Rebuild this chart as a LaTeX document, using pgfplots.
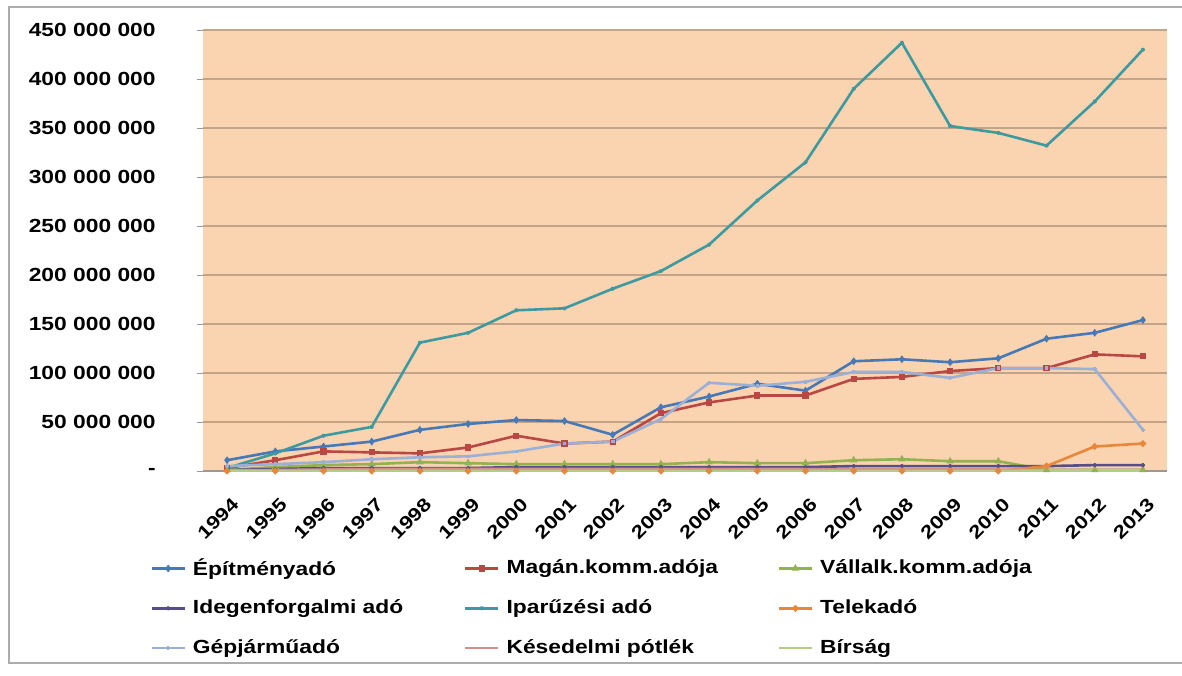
\documentclass[border=0pt]{standalone}
\usepackage{fontspec}
\setmainfont{Liberation Sans}[FakeStretch=1.2]
\usepackage{pgfplots}
\pgfplotsset{compat=1.18}
\usepackage{pgfplotstable}

\definecolor{bgpeach}{HTML}{FAD3B0}
\definecolor{gridc}{HTML}{C2A488}
\definecolor{cEpit}{HTML}{4679B6}
\definecolor{cMagan}{HTML}{B94744}
\definecolor{cVall}{HTML}{93B250}
\definecolor{cIdeg}{HTML}{574E88}
\definecolor{cIpar}{HTML}{3C9AA0}
\definecolor{cTelek}{HTML}{E8873A}
\definecolor{cGep}{HTML}{9AB0D6}
\definecolor{cKes}{HTML}{D48E8B}
\definecolor{cBirs}{HTML}{B5CB88}

% 1994..2013 -> x = 0..19
\pgfplotstableread{
x E M V I P T G K B
0  11000000  3000000  1000000 1000000   3000000  0        5000000  500000  0
1  20000000  11000000 4000000 2000000   18000000 0        7000000  1000000 0
2  25000000  20000000 6000000 3000000   36000000 0        9000000  1500000 0
3  30000000  19000000 7000000 3000000   45000000 0        12000000 2000000 0
4  42000000  18000000 9000000 3000000   131000000 0       14000000 2000000 0
5  48000000  24000000 8000000 3000000   141000000 0       15000000 2000000 0
6  52000000  36000000 7000000 4000000   164000000 0       20000000 2000000 0
7  51000000  28000000 7000000 4000000   166000000 0       28000000 2000000 0
8  37000000  30000000 7000000 4000000   186000000 0       30000000 2000000 0
9  65000000  59000000 7000000 4000000   204000000 0       53000000 2000000 0
10 76000000  70000000 9000000 4000000   231000000 0       90000000 2000000 0
11 89000000  77000000 8000000 4000000   276000000 0       87000000 2000000 0
12 82000000  77000000 8000000 4000000   315000000 0       91000000 2000000 0
13 112000000 94000000 11000000 5000000  390000000 0       101000000 1500000 0
14 114000000 96000000 12000000 5000000  437000000 0       101000000 1500000 0
15 111000000 102000000 10000000 5000000 352000000 0       95000000 1500000 0
16 115000000 105000000 10000000 5000000 345000000 0       105000000 1500000 0
17 135000000 105000000 1000000 5000000  332000000 5000000 105000000 1000000 500000
18 141000000 119000000 1000000 6000000  377000000 25000000 104000000 1000000 500000
19 154000000 117000000 1000000 6000000  430000000 28000000 42000000 1000000 500000
}\adatok

\newcommand{\lbl}[1]{\makebox[139pt][l]{\hspace{3.5pt}\bfseries #1}}

\begin{document}
\begin{tikzpicture}
\useasboundingbox (0,0) rectangle (591pt,337.5pt);
\fill[white] (0,0) rectangle (591pt,337.5pt);
\draw[gray!65, line width=0.8pt] (600pt,6pt) -- (4.5pt,6pt) -- (4.5pt,334pt) -- (600pt,334pt);
\begin{axis}[
  at={(101.5pt,102pt)}, anchor=south west,
  scale only axis, width=482pt, height=220.5pt,
  xmin=-0.5, xmax=19.5, ymin=0, ymax=450000000,
  scaled y ticks=false,
  axis background/.style={fill=bgpeach},
  axis x line*=bottom, axis y line*=left,
  axis line style={-},
  x axis line style={draw=gray!80, line width=0.6pt},
  y axis line style={draw=none},
  tick align=outside,
  ymajorgrids, grid style={gridc, line width=0.6pt},
  ytick={0,50000000,100000000,150000000,200000000,250000000,300000000,350000000,400000000,450000000},
  yticklabels={-,50 000 000,100 000 000,150 000 000,200 000 000,250 000 000,300 000 000,350 000 000,400 000 000,450 000 000},
  ytick style={draw=gray!80, line width=0.5pt},
  major tick length=3pt,
  xtick={0,...,19},
  xticklabels={1994,1995,1996,1997,1998,1999,2000,2001,2002,2003,2004,2005,2006,2007,2008,2009,2010,2011,2012,2013},
  xtick style={draw=none},
  extra x ticks={-0.5,0.5,...,19.5},
  extra x tick labels={},
  extra x tick style={grid=none, major tick length=2.5pt, tick style={draw=gray!80, line width=0.5pt}},
  tick label style={font=\bfseries\fontsize{9.5}{11}\selectfont, inner sep=0pt},
  yticklabel style={anchor=east, xshift=-20.5pt},
  xticklabel style={font=\bfseries\fontsize{9.2}{11}\selectfont, xshift=4.25pt, yshift=-12pt, rotate=45, anchor=east},
  legend columns=3,
  legend cell align=left,
  legend style={at={(-0.055,-0.175)}, anchor=north west, draw=none, fill=none,
    font=\bfseries\fontsize{9.5}{11}\selectfont, inner sep=0pt, row sep=0pt,
    nodes={inner sep=0pt, minimum height=19.9pt}},
  legend image code/.code={\draw[mark repeat=2,mark phase=2,#1] plot coordinates {(0pt,0pt) (8.25pt,0pt) (16.5pt,0pt)};},
  every axis plot/.append style={line width=1.3pt, mark size=0.9pt},
]
\addplot[cEpit, mark=diamond*] table[x=x,y=E]{\adatok};
\addlegendentry{\lbl{Építményadó}}
\addplot[cMagan, mark=square*] table[x=x,y=M]{\adatok};
\addlegendentry{\lbl{Magán.komm.adója}}
\addplot[cVall, mark=triangle*] table[x=x,y=V]{\adatok};
\addlegendentry{\lbl{Vállalk.komm.adója}}
\addplot[cIdeg, mark=x] table[x=x,y=I]{\adatok};
\addlegendentry{\lbl{Idegenforgalmi adó}}
\addplot[cIpar, mark=star] table[x=x,y=P]{\adatok};
\addlegendentry{\lbl{Iparűzési adó}}
\addplot[cTelek, mark=*] table[x=x,y=T]{\adatok};
\addlegendentry{\lbl{Telekadó}}
\addplot[cGep, mark=+] table[x=x,y=G]{\adatok};
\addlegendentry{\lbl{Gépjárműadó}}
\addplot[cKes, mark=none] table[x=x,y=K]{\adatok};
\addlegendentry{\lbl{Késedelmi pótlék}}
\addplot[cBirs, mark=none] table[x=x,y=B]{\adatok};
\addlegendentry{\lbl{Bírság}}
\end{axis}
\end{tikzpicture}
\end{document}
